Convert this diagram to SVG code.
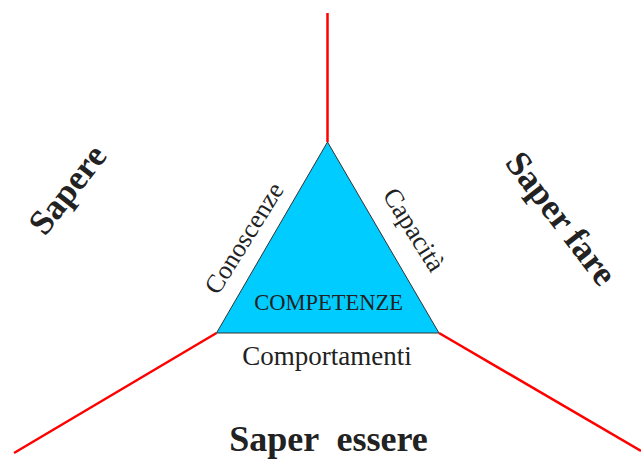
<svg xmlns="http://www.w3.org/2000/svg" width="641" height="459" viewBox="0 0 641 459">
<style>
.red{stroke:#FF0000;stroke-width:2.5;fill:none}
.tri{fill:#00CCFF;stroke:#333333;stroke-width:1}
.t{font-family:"Liberation Serif","Times New Roman",serif;fill:#222222}
.b{font-weight:bold}
</style>
<rect width="641" height="459" fill="#FFFFFF"/>
<g id="connectors">
<line class="red" x1="327.5" y1="13" x2="327.5" y2="142"/>
<line class="red" x1="216.5" y1="333" x2="14" y2="453"/>
<line class="red" x1="439" y1="333" x2="641" y2="451"/>
</g>
<g id="triangle">
<polygon class="tri" points="327.5,142 216.5,333 439,333"/>
<text class="t" x="328.5" y="310" font-size="22.5" text-anchor="middle">COMPETENZE</text>
</g>
<g id="conoscenze">
<text class="t" font-size="26" transform="translate(218,296) rotate(-58)">Conoscenze</text>
</g>
<g id="capacita">
<text class="t" font-size="26.5" transform="translate(382,195) rotate(58)">Capacità</text>
</g>
<g id="comportamenti">
<text class="t" x="327" y="365" font-size="27" text-anchor="middle">Comportamenti</text>
</g>
<g id="sapere">
<text class="t b" font-size="35" transform="translate(45,237) rotate(-52)">Sapere</text>
</g>
<g id="saper-fare">
<text class="t b" font-size="35.5" transform="translate(504,163) rotate(52.5)">Saper fare</text>
</g>
<g id="saper-essere">
<text class="t b" x="328.5" y="451" font-size="36" text-anchor="middle" xml:space="preserve">Saper  essere</text>
</g>
</svg>
